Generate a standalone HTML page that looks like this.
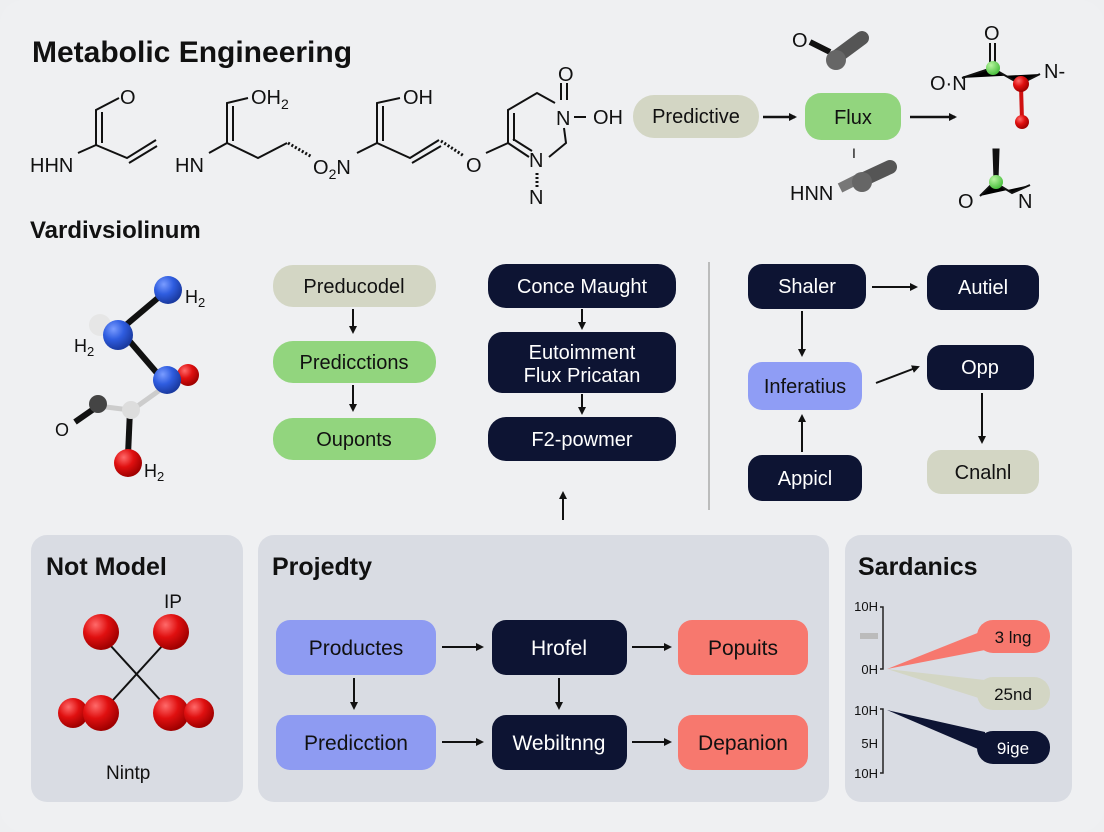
<!DOCTYPE html>
<html><head><meta charset="utf-8"><style>
html,body{margin:0;padding:0;background:#eeeff1;}
svg{display:block;font-family:"Liberation Sans",sans-serif;}
</style></head><body>
<svg width="1104" height="832" viewBox="0 0 1104 832" xmlns="http://www.w3.org/2000/svg">
<defs>
<marker id="ah" markerWidth="8" markerHeight="8" refX="6" refY="4" orient="auto" markerUnits="userSpaceOnUse"><path d="M0,0 L8,4 L0,8 z" fill="#111"/></marker>
<radialGradient id="red" cx="35%" cy="30%" r="70%"><stop offset="0" stop-color="#ff6a6a"/><stop offset="0.5" stop-color="#e01010"/><stop offset="1" stop-color="#a00000"/></radialGradient>
<radialGradient id="blue" cx="35%" cy="30%" r="70%"><stop offset="0" stop-color="#7a9cff"/><stop offset="0.5" stop-color="#2f5de0"/><stop offset="1" stop-color="#1a3aa0"/></radialGradient>
<radialGradient id="grn" cx="35%" cy="30%" r="70%"><stop offset="0" stop-color="#b8f5a0"/><stop offset="1" stop-color="#4cc040"/></radialGradient>
</defs>
<rect x="0" y="0" width="1104" height="832" rx="24" fill="#eff0f2"/>

<text x="32" y="62" font-size="30" font-weight="bold" fill="#111">Metabolic Engineering</text>

<g stroke="#111" stroke-width="2" fill="none">
<!-- mol1 -->
<path d="M78,153 L96,145 L96,110 L119,98"/><path d="M102,143 L102,112"/>
<path d="M96,145 L127,158 L156,140"/><path d="M129,163 L157,146"/>
<!-- mol2 -->
<path d="M209,153 L227,143 L227,103 L248,98"/><path d="M233,141 L233,106"/>
<path d="M227,143 L258,158 L287,143"/>
<!-- mol3 -->
<path d="M357,153 L377,143 L377,103 L400,98"/><path d="M383,141 L383,106"/>
<path d="M377,143 L410,158 L439,140"/><path d="M412,163 L441,146"/>
<!-- mol4 -->
<path d="M486,153 L508,143 L508,110 L537,93 L555,103"/><path d="M514,141 L514,113"/>
<path d="M508,143 L529,157"/><path d="M513,139 L532,151"/>
<path d="M564,128 L566,143 L549,157"/>
<path d="M574,117 L586,117"/>
<path d="M561,83 L561,100"/><path d="M567,83 L567,100"/>
</g>
<g stroke="#111" stroke-width="3" stroke-dasharray="2,2"><path d="M288,143 L312,157"/><path d="M441,141 L464,156"/><path d="M537,173 L537,187"/></g>
<g font-size="20" fill="#111">
<text x="120" y="104">O</text><text x="30" y="172">HHN</text>
<text x="251" y="104">OH<tspan font-size="14" dy="5">2</tspan></text><text x="175" y="172">HN</text>
<text x="313" y="174">O<tspan font-size="14" dy="5">2</tspan><tspan dy="-5">N</tspan></text>
<text x="403" y="104">OH</text><text x="466" y="172">O</text>
<text x="558" y="81">O</text><text x="556" y="125">N</text><text x="593" y="124">OH</text>
<text x="529" y="167">N</text><text x="529" y="204">N</text>
</g>

<rect x="633" y="95" width="126" height="43" rx="21" fill="#d3d6c4"/>
<text x="696" y="123" font-size="20" text-anchor="middle" fill="#111">Predictive</text>
<line x1="763" y1="117" x2="795" y2="117" stroke="#111" stroke-width="2.5" marker-end="url(#ah)"/>
<rect x="805" y="93" width="96" height="47" rx="16" fill="#92d57e"/>
<text x="853" y="124" font-size="20" text-anchor="middle" fill="#111">Flux</text>
<line x1="910" y1="117" x2="955" y2="117" stroke="#111" stroke-width="2.5" marker-end="url(#ah)"/>
<text x="852" y="158" font-size="14" fill="#111">I</text>
<text x="792" y="47" font-size="20" fill="#111">O</text>
<path d="M810,42 L830,52" stroke="#111" stroke-width="6"/>
<path d="M835,58 L862,38" stroke="#555" stroke-width="14" stroke-linecap="round"/>
<circle cx="836" cy="60" r="10" fill="#666"/>
<text x="790" y="200" font-size="20" fill="#111">HNN</text>
<path d="M840,188 L860,178" stroke="#777" stroke-width="10"/>
<path d="M862,180 L890,167" stroke="#555" stroke-width="14" stroke-linecap="round"/>
<circle cx="862" cy="182" r="10" fill="#666"/>
<g stroke="#111" stroke-width="2">
<path d="M962,78 L992,68 L1020,84 L1040,74"/><path d="M990,43 L990,66"/><path d="M995,43 L995,66"/>
<path d="M980,196 L994,182 L1012,193 L1030,185"/>
</g>
<path d="M1021,86 L1022,120" stroke="#d01010" stroke-width="4"/>
<path d="M994,150 L998,150 L997,180 L995,180 z" fill="#111" stroke="#111" stroke-width="3"/>
<circle cx="993" cy="68" r="7" fill="url(#grn)"/><circle cx="1021" cy="84" r="8" fill="url(#red)"/>
<circle cx="1022" cy="122" r="7" fill="url(#red)"/><circle cx="996" cy="182" r="7" fill="url(#grn)"/>
<g font-size="20" fill="#111"><text x="984" y="40">O</text><text x="930" y="90">O·N</text><text x="1044" y="78">N-</text>
<text x="958" y="208">O</text><text x="1018" y="208">N</text></g>

<text x="30" y="238" font-size="24" font-weight="bold" fill="#111">Vardivsiolinum</text>

<path d="M120,330 L165,292" stroke="#111" stroke-width="6"/>
<path d="M120,330 L163,380" stroke="#111" stroke-width="6"/>
<path d="M160,390 L132,410" stroke="#ccc" stroke-width="5"/>
<path d="M98,406 L75,422" stroke="#111" stroke-width="6"/>
<path d="M130,410 L128,455" stroke="#111" stroke-width="6"/>
<path d="M98,406 L130,410" stroke="#ccc" stroke-width="5"/>
<circle cx="168" cy="290" r="14" fill="url(#blue)"/>
<circle cx="100" cy="325" r="11" fill="#e6e6e6"/>
<circle cx="118" cy="335" r="15" fill="url(#blue)"/>
<circle cx="188" cy="375" r="11" fill="url(#red)"/>
<circle cx="167" cy="380" r="14" fill="url(#blue)"/>
<circle cx="98" cy="404" r="9" fill="#444"/>
<circle cx="131" cy="410" r="9" fill="#ddd"/>
<circle cx="128" cy="463" r="14" fill="url(#red)"/>
<g font-size="18" fill="#111"><text x="185" y="303">H<tspan font-size="13" dy="4">2</tspan></text>
<text x="74" y="352">H<tspan font-size="13" dy="4">2</tspan></text><text x="55" y="436">O</text>
<text x="144" y="477">H<tspan font-size="13" dy="4">2</tspan></text></g>

<g font-size="20" text-anchor="middle">
<rect x="273" y="265" width="163" height="42" rx="20" fill="#d3d6c4"/><text x="354" y="293" fill="#111">Preducodel</text>
<rect x="273" y="341" width="163" height="42" rx="20" fill="#92d57e"/><text x="354" y="369" fill="#111">Predicctions</text>
<rect x="273" y="418" width="163" height="42" rx="20" fill="#92d57e"/><text x="354" y="446" fill="#111">Ouponts</text>
<rect x="488" y="264" width="188" height="44" rx="18" fill="#0d1433"/><text x="582" y="293" fill="#fff">Conce Maught</text>
<rect x="488" y="332" width="188" height="61" rx="14" fill="#0d1433"/><text x="582" y="359" fill="#fff">Eutoimment</text><text x="582" y="382" fill="#fff">Flux Pricatan</text>
<rect x="488" y="417" width="188" height="44" rx="18" fill="#0d1433"/><text x="582" y="446" fill="#fff">F2-powmer</text>
</g>
<g stroke="#111" stroke-width="2">
<line x1="353" y1="309" x2="353" y2="332" marker-end="url(#ah)"/>
<line x1="353" y1="385" x2="353" y2="410" marker-end="url(#ah)"/>
<line x1="582" y1="309" x2="582" y2="328" marker-end="url(#ah)"/>
<line x1="582" y1="394" x2="582" y2="413" marker-end="url(#ah)"/>
<line x1="563" y1="520" x2="563" y2="493" marker-end="url(#ah)"/>
</g>
<line x1="709" y1="262" x2="709" y2="510" stroke="#aaa" stroke-width="1.5"/>

<g font-size="20" text-anchor="middle">
<rect x="748" y="264" width="118" height="45" rx="14" fill="#0d1433"/><text x="807" y="293" fill="#fff">Shaler</text>
<rect x="927" y="265" width="112" height="45" rx="14" fill="#0d1433"/><text x="983" y="294" fill="#fff">Autiel</text>
<rect x="748" y="362" width="114" height="48" rx="14" fill="#8f9df5"/><text x="805" y="393" fill="#111">Inferatius</text>
<rect x="927" y="345" width="107" height="45" rx="14" fill="#0d1433"/><text x="980" y="374" fill="#fff">Opp</text>
<rect x="748" y="455" width="114" height="46" rx="14" fill="#0d1433"/><text x="805" y="485" fill="#fff">Appicl</text>
<rect x="927" y="450" width="112" height="44" rx="14" fill="#d3d6c4"/><text x="983" y="479" fill="#111">Cnalnl</text>
</g>
<g stroke="#111" stroke-width="2">
<line x1="872" y1="287" x2="916" y2="287" marker-end="url(#ah)"/>
<line x1="802" y1="311" x2="802" y2="355" marker-end="url(#ah)"/>
<line x1="802" y1="452" x2="802" y2="416" marker-end="url(#ah)"/>
<line x1="876" y1="383" x2="918" y2="367" marker-end="url(#ah)"/>
<line x1="982" y1="393" x2="982" y2="442" marker-end="url(#ah)"/>
</g>

<rect x="31" y="535" width="212" height="267" rx="16" fill="#d9dce3"/>
<rect x="258" y="535" width="571" height="267" rx="16" fill="#d9dce3"/>
<rect x="845" y="535" width="227" height="267" rx="16" fill="#d9dce3"/>
<text x="46" y="575" font-size="25" font-weight="bold" fill="#111">Not Model</text>
<text x="272" y="575" font-size="25" font-weight="bold" fill="#111">Projedty</text>
<text x="858" y="575" font-size="25" font-weight="bold" fill="#111">Sardanics</text>

<g stroke="#111" stroke-width="2"><line x1="110" y1="645" x2="162" y2="702"/><line x1="163" y1="645" x2="113" y2="700"/></g>
<circle cx="101" cy="632" r="18" fill="url(#red)"/><circle cx="171" cy="632" r="18" fill="url(#red)"/>
<circle cx="73" cy="713" r="15" fill="url(#red)"/><circle cx="101" cy="713" r="18" fill="url(#red)"/>
<circle cx="171" cy="713" r="18" fill="url(#red)"/><circle cx="199" cy="713" r="15" fill="url(#red)"/>
<text x="164" y="608" font-size="19" fill="#111">IP</text>
<text x="106" y="779" font-size="19" fill="#111">Nintp</text>

<g font-size="21" text-anchor="middle">
<rect x="276" y="620" width="160" height="55" rx="14" fill="#8e9bf2"/><text x="356" y="655" fill="#111">Productes</text>
<rect x="276" y="715" width="160" height="55" rx="14" fill="#8e9bf2"/><text x="356" y="750" fill="#111">Predicction</text>
<rect x="492" y="620" width="135" height="55" rx="14" fill="#0d1433"/><text x="559" y="655" fill="#fff">Hrofel</text>
<rect x="492" y="715" width="135" height="55" rx="14" fill="#0d1433"/><text x="559" y="750" fill="#fff">Webiltnng</text>
<rect x="678" y="620" width="130" height="55" rx="14" fill="#f7786e"/><text x="743" y="655" fill="#111">Popuits</text>
<rect x="678" y="715" width="130" height="55" rx="14" fill="#f7786e"/><text x="743" y="750" fill="#111">Depanion</text>
</g>
<g stroke="#111" stroke-width="2">
<line x1="354" y1="678" x2="354" y2="708" marker-end="url(#ah)"/>
<line x1="559" y1="678" x2="559" y2="708" marker-end="url(#ah)"/>
<line x1="442" y1="647" x2="482" y2="647" marker-end="url(#ah)"/>
<line x1="632" y1="647" x2="670" y2="647" marker-end="url(#ah)"/>
<line x1="442" y1="742" x2="482" y2="742" marker-end="url(#ah)"/>
<line x1="632" y1="742" x2="670" y2="742" marker-end="url(#ah)"/>
</g>

<g stroke="#222" stroke-width="1.5" fill="none">
<path d="M880,607 L883,607 L883,669 L880,669"/>
<path d="M880,709 L883,709 L883,773 L880,773"/>
</g>
<g font-size="13" fill="#111" text-anchor="end">
<text x="878" y="611">10H</text><text x="878" y="674">0H</text>
<text x="878" y="715">10H</text><text x="878" y="748">5H</text><text x="878" y="778">10H</text>
</g>
<rect x="860" y="633" width="18" height="6" fill="#bbb"/>
<path d="M887,669 L985,630 L985,650 z" fill="#f7786e"/>
<path d="M887,669 L985,680 L985,700 z" fill="#d3d6c4"/>
<path d="M887,710 L985,732 L985,752 z" fill="#0d1433"/>
<rect x="977" y="620" width="73" height="33" rx="16" fill="#f7786e"/><text x="1013" y="643" font-size="17" text-anchor="middle" fill="#111">3 lng</text>
<rect x="977" y="677" width="73" height="33" rx="16" fill="#d3d6c4"/><text x="1013" y="700" font-size="17" text-anchor="middle" fill="#111">25nd</text>
<rect x="977" y="731" width="73" height="33" rx="16" fill="#0d1433"/><text x="1013" y="754" font-size="17" text-anchor="middle" fill="#fff">9ige</text>
</svg>
</body></html>
